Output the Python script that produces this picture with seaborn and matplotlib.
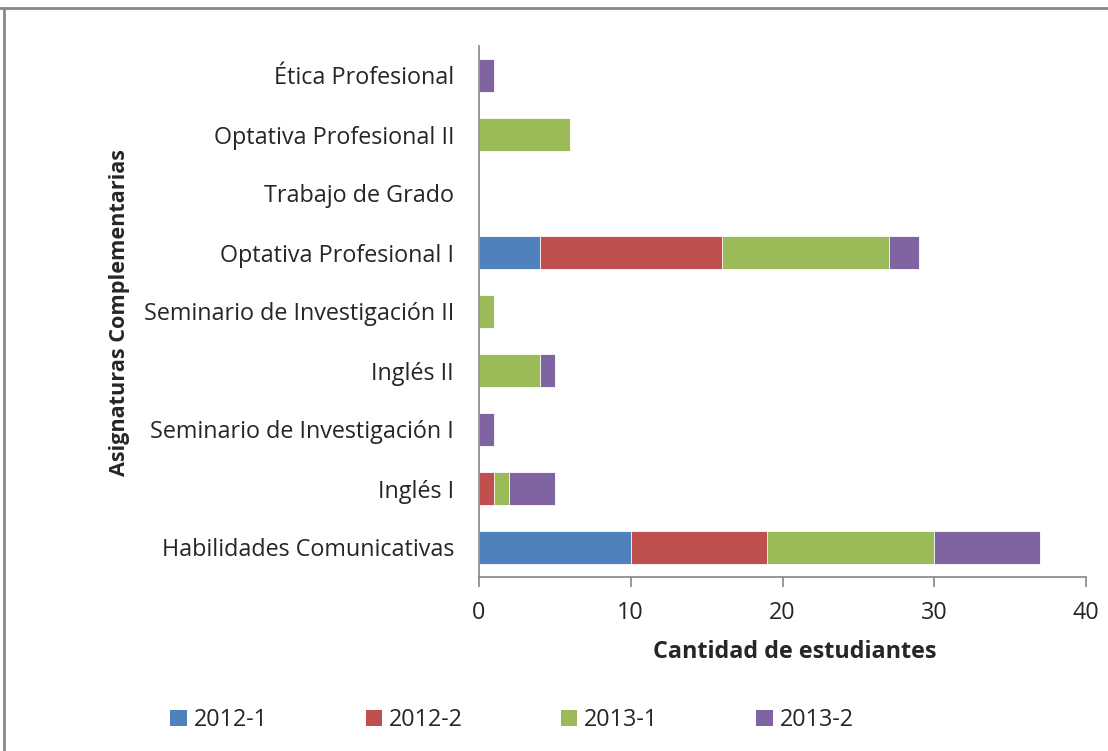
import matplotlib
matplotlib.use("Agg")
import matplotlib.pyplot as plt
from matplotlib.patches import Patch
from matplotlib.lines import Line2D
import seaborn as sns
import pandas as pd
import numpy as np

categories = ["Ética Profesional", "Optativa Profesional II", "Trabajo de Grado",
              "Optativa Profesional I", "Seminario de Investigación II", "Inglés II",
              "Seminario de Investigación I", "Inglés I", "Habilidades Comunicativas"]
series = ["2012-1", "2012-2", "2013-1", "2013-2"]
s2012_1 = [0, 0, 0, 4, 0, 0, 0, 0, 10]
s2012_2 = [0, 0, 0, 12, 0, 0, 0, 1, 9]
s2013_1 = [0, 6, 0, 11, 1, 4, 0, 1, 11]
s2013_2 = [1, 0, 0, 2, 0, 1, 1, 3, 7]
colors = ["#4F81BD", "#C0504D", "#9BBB59", "#8064A2"]
xticks = [0, 10, 20, 30, 40]

sns.set_theme(style="white")
plt.rcParams["font.family"] = ["Open Sans", "DejaVu Sans"]

FS = 16.8

df = pd.DataFrame({"cat": categories, "2012-1": s2012_1, "2012-2": s2012_2,
                   "2013-1": s2013_1, "2013-2": s2013_2})
cum = df[series].cumsum(axis=1)

fig = plt.figure(figsize=(11.08, 7.51), dpi=100)
ax = fig.add_axes([479/1108, 1-577/751, (1086-479)/1108, (577-46)/751])

for s, c in reversed(list(zip(series, colors))):
    sns.barplot(x=cum[s], y=df["cat"], order=categories, color=c, orient="h",
                width=0.56, edgecolor="white", linewidth=0.6, ax=ax, saturation=1)

ax.set_xlim(0, 40)
ax.set_xticks(xticks)
ax.set_xticklabels([str(t) for t in xticks])
ax.set_ylim(len(categories) - 0.5, -0.5)
ax.tick_params(axis="x", direction="out", length=7, width=1.2, color="#868686",
               labelsize=FS, pad=10, bottom=True)
ax.tick_params(axis="y", length=0, labelsize=FS, pad=18)
for sp in ["top", "right"]:
    ax.spines[sp].set_visible(False)
for sp in ["left", "bottom"]:
    ax.spines[sp].set_color("#868686")
    ax.spines[sp].set_linewidth(1.2)
ax.set_xlabel("")
ax.set_ylabel("")
fig.text(795/1108, 1-652/751, "Cantidad de estudiantes", fontsize=FS,
         fontweight="bold", ha="center", va="center")
fig.text(120/1108, 1-313/751, "Asignaturas Complementarias", rotation=90,
         fontsize=15.6, fontweight="bold", ha="center", va="center")

handles = [Patch(facecolor=c, edgecolor="none") for c in colors]
fig.legend(handles, series, loc="center", bbox_to_anchor=(512/1108, 1-720/751),
           ncol=4, frameon=False, fontsize=FS, handlelength=0.7, handleheight=0.7,
           handletextpad=0.3, columnspacing=4.2)

fig.add_artist(Line2D([0, 1], [1-8/751, 1-8/751], color="#888888", lw=2,
                      transform=fig.transFigure))
fig.add_artist(Line2D([4/1108, 4/1108], [0, 1-8/751], color="#888888", lw=2,
                      transform=fig.transFigure))

fig.savefig("out.png", dpi=100)
